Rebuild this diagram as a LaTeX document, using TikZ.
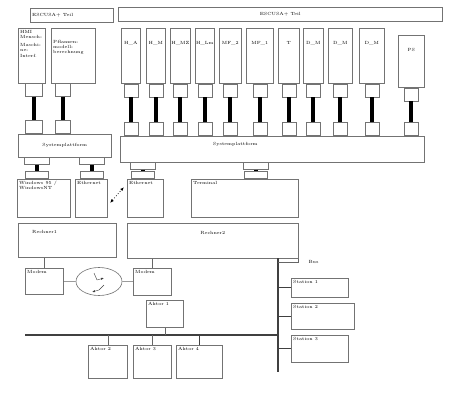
\documentclass[tikz,border=0pt]{standalone}
\usetikzlibrary{arrows.meta,shapes.geometric,calc}

\begin{document}
\begin{tikzpicture}[x=1pt,y=-1pt,
every node/.style={font=\fontsize{4.5}{5.2}\selectfont},
box/.style={draw=black!55,line width=.6pt,inner sep=0pt,anchor=north west},
lbl/.style={inner sep=2pt,align=left},
tl/.style={label={[lbl,anchor=north west]north west:#1}},
stub/.style={draw=black!55,line width=.6pt,inner sep=0pt,minimum width=14pt,minimum height=13pt},
fstub/.style={stub,minimum width=25pt,minimum height=7pt},
bar/.style={line width=4pt,black},
conn/.style={draw=black!60,line width=.6pt},
busline/.style={line width=1.6pt,black!75},
tap/.style={line width=1.2pt,black!75},
wlink/.style={dotted,thick,{Latex[length=4pt]}-{Latex[length=4pt]}},
zap/.style={black!75,-{Latex[length=3pt]}}
]
\useasboundingbox (0,0) rectangle (454,401);

% headers
\node[box,minimum width=83pt,minimum height=14pt,label={[lbl,anchor=west]west:ESCUSA+ Teil}] (headl) at (30,8) {};
\node[box,minimum width=324pt,minimum height=14pt] (headr) at (118,7) {ESCUSA+ Teil};

% left modules
\node[box,minimum width=27pt,minimum height=55pt,tl={HMI\\Mensch-\\[3pt]Maschi-\\ne-\\Interf.}] (hmi) at (18,28) {};
\node[box,minimum width=44pt,minimum height=55pt,label={[lbl,anchor=north west,yshift=-10pt]north west:Pflanzen-\\modell-\\berechnung}] (pfl) at (51,28) {};
\node[stub,minimum width=17pt,anchor=north] (uphmi) at (33.5,83) {};
\node[stub,minimum width=17pt,anchor=south] (lohmi) at (33.5,134) {};
\node[stub,minimum width=15pt,anchor=north] (uppfl) at (62.5,83) {};
\node[stub,minimum width=15pt,anchor=south] (lopfl) at (62.5,134) {};
\draw[bar] (uphmi.south) -- (lohmi.north);
\draw[bar] (uppfl.south) -- (lopfl.north);

% right modules
\foreach \m/\xa/\xb/\ya/\yb/\t in {ha/121/140/28/83/H\_A, hm/146/165/28/83/H\_M,
  hmz/170/190/28/83/H\_MZ, hlm/195/214/28/83/H\_Lm, mfb/219/241/28/83/MF\_2,
  mfa/246/273/28/83/MF\_1, t/278/299/28/83/T, dma/303/323/28/83/D\_M,
  dmb/328/352/28/83/D\_M, dmc/359/384/28/83/D\_M, ps/398/424/35/87/PS}{
  \node[box,minimum width=(\xb-\xa)*1pt,minimum height=(\yb-\ya)*1pt,
    label={[lbl,anchor=north,yshift=-11pt]north:\t}] (mod\m) at (\xa,\ya) {};
  \node[stub,anchor=north] (up\m) at (mod\m.south) {};
  \node[stub,anchor=south] (lo\m) at (mod\m.south |- 0,136) {};
  \draw[bar] (up\m.south) -- (lo\m.north);
}

% platforms
\node[box,minimum width=93pt,minimum height=23pt] (sysl) at (18,134) {Systemplattform};
\node[box,minimum width=304pt,minimum height=26pt,label={[lbl,anchor=north,xshift=-37pt,yshift=-4pt]north:Systemplattform}] (sysr) at (120,136) {};

% second row
\node[box,minimum width=53pt,minimum height=38pt,tl={Windows 95 /\\WindowsNT}] (win) at (17,179) {};
\node[box,minimum width=32pt,minimum height=38pt,tl=Ethernet] (ethl) at (75,179) {};
\node[box,minimum width=36pt,minimum height=38pt,tl=Ethernet] (ethr) at (127,179) {};
\node[box,minimum width=107pt,minimum height=38pt,tl=Terminal] (term) at (191,179) {};

\node[fstub,anchor=north] (upwin) at (37,157) {};
\node[fstub,minimum width=23pt,anchor=south] (lowin) at (37,179) {};
\node[fstub,anchor=north] (upethl) at (92,157) {};
\node[fstub,minimum width=23pt,anchor=south] (loethl) at (92,179) {};
\node[fstub,anchor=north] (upethr) at (143,162) {};
\node[fstub,minimum width=23pt,anchor=south] (loethr) at (143,179) {};
\node[fstub,anchor=north] (upterm) at (256,162) {};
\node[fstub,minimum width=23pt,anchor=south] (loterm) at (256,179) {};
\draw[bar] (upwin.south) -- (lowin.north);
\draw[bar] (upethl.south) -- (loethl.north);
\draw[bar] (upethr.south) -- (loethr.north);
\draw[bar] (upterm.south) -- (loterm.north);

\coordinate (wla) at (110,203);
\coordinate (wlb) at (124,187);
\draw[wlink] (wla) -- (wlb);

% computers and modems
\node[box,minimum width=98pt,minimum height=34pt,label={[lbl,anchor=north west,xshift=12pt,yshift=-5pt]north west:Rechner1}] (rech1) at (18,223) {};
\node[box,minimum width=171pt,minimum height=35pt,label={[lbl,anchor=north,yshift=-6pt]north:Rechner2}] (rech2) at (127,223) {};
\node[box,minimum width=38pt,minimum height=26pt,tl=Modem] (modl) at (25,268) {};
\node[box,minimum width=38pt,minimum height=27pt,tl=Modem] (modr) at (133,268) {};
\node[ellipse,draw=black!55,line width=.6pt,inner sep=0pt,minimum width=46pt,minimum height=28pt] (radio) at (99,281.5) {};
\draw[zap] (94,273) -- (97,280) -- (104,278);
\draw[zap] (104,285) -- (99,290) -- (92,292);
\draw[conn] (rech1.south -| modl.north) -- (modl.north);
\draw[conn] (rech2.south -| modr.north) -- (modr.north);
\draw[conn] (modl) -- (radio) -- (modr);

% field bus
\node[box,minimum width=37pt,minimum height=27pt,tl={Aktor 1}] (akt1) at (146,300) {};
\node[box,minimum width=39pt,minimum height=33pt,tl={Aktor 2}] (akt2) at (88,345) {};
\node[box,minimum width=38pt,minimum height=33pt,tl={Aktor 3}] (akt3) at (133,345) {};
\node[box,minimum width=46pt,minimum height=33pt,tl={Aktor 4}] (akt4) at (176,345) {};
\node[box,minimum width=57pt,minimum height=19pt,tl={Station 1}] (st1) at (291,278) {};
\node[box,minimum width=63pt,minimum height=26pt,tl={Station 2}] (st2) at (291,303) {};
\node[box,minimum width=57pt,minimum height=27pt,tl={Station 3}] (st3) at (291,335) {};

\coordinate (busw) at (25,335);
\coordinate (busx) at (278,335);
\coordinate (bust) at (278,258);
\coordinate (busb) at (278,372);
\coordinate (busk) at (278,262);
\draw[busline] (busw) -- (busx);
\draw[busline] (bust) -- (busb);
\draw[conn] (busk) -| (rech2.south east);
\node[anchor=west] (buslbl) at (305,262) {Bus};

\draw[conn] (akt1.south) -- (akt1.south |- busw);
\draw[conn] (akt2.north) -- (akt2.north |- busw);
\draw[conn] (akt3.north) -- (akt3.north |- busw);
\draw[tap] (akt4.north) -- (akt4.north |- busw);
\draw[tap] (st1.west) -- (st1.west -| bust);
\draw[tap] (st2.west) -- (st2.west -| bust);
\draw[tap] (st3.west) -- (st3.west -| bust);
\end{tikzpicture}
\end{document}
